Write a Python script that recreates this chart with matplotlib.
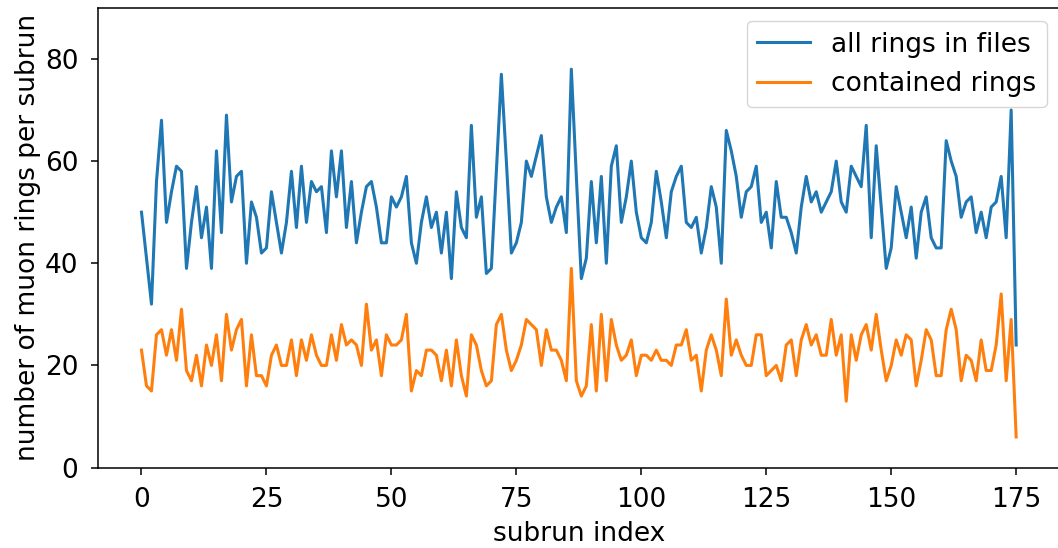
import matplotlib
matplotlib.use("Agg")
import matplotlib.pyplot as plt
import numpy as np

# rings per subrun
all_rings = [
    50, 41, 32, 56, 68, 48, 54, 59, 58, 39,
    48, 55, 45, 51, 39, 62, 46, 69, 52, 57,
    58, 40, 52, 49, 42, 43, 54, 48, 42, 48,
    58, 47, 59, 48, 56, 54, 55, 46, 62, 53,
    62, 47, 56, 44, 50, 55, 56, 51, 44, 44,
    53, 51, 53, 57, 44, 40, 48, 53, 47, 50,
    42, 50, 37, 54, 47, 45, 67, 49, 53, 38,
    39, 58, 77, 60, 42, 44, 48, 60, 57, 61,
    65, 53, 48, 51, 53, 46, 78, 57, 37, 41,
    56, 44, 57, 40, 59, 63, 48, 53, 60, 50,
    45, 44, 48, 58, 52, 45, 54, 57, 59, 48,
    47, 49, 42, 47, 55, 51, 40, 66, 62, 57,
    49, 54, 55, 59, 48, 50, 43, 56, 49, 49,
    46, 42, 51, 57, 52, 54, 50, 52, 54, 60,
    52, 50, 59, 57, 55, 67, 45, 63, 51, 39,
    43, 55, 50, 45, 51, 41, 50, 53, 45, 43,
    43, 64, 60, 57, 49, 52, 53, 46, 50, 45,
    51, 52, 57, 45, 70, 24,
]
contained_rings = [
    23, 16, 15, 26, 27, 22, 27, 21, 31, 19,
    17, 22, 16, 24, 20, 26, 17, 30, 23, 27,
    29, 16, 26, 18, 18, 16, 22, 24, 20, 20,
    25, 18, 25, 21, 26, 22, 20, 20, 26, 21,
    28, 24, 25, 24, 20, 32, 23, 25, 18, 26,
    24, 24, 25, 30, 15, 19, 18, 23, 23, 22,
    17, 23, 16, 25, 18, 14, 26, 24, 19, 16,
    17, 28, 30, 23, 19, 21, 24, 29, 28, 27,
    20, 27, 23, 23, 21, 17, 39, 17, 14, 16,
    28, 15, 30, 17, 29, 24, 21, 22, 25, 18,
    22, 22, 21, 23, 21, 21, 20, 24, 24, 27,
    21, 22, 15, 23, 26, 23, 18, 33, 22, 25,
    22, 20, 20, 26, 26, 18, 19, 20, 17, 24,
    25, 18, 25, 28, 24, 26, 22, 22, 29, 22,
    26, 13, 26, 21, 26, 28, 23, 30, 23, 17,
    20, 25, 22, 26, 25, 16, 21, 27, 25, 18,
    18, 27, 31, 27, 17, 22, 21, 17, 25, 19,
    19, 24, 34, 17, 29, 6,
]
subrun = np.arange(len(all_rings))

plt.rcParams["font.size"] = 19
plt.rcParams["axes.linewidth"] = 1.1
for ax_name in ("xtick", "ytick"):
    plt.rcParams[f"{ax_name}.major.size"] = 4.9
    plt.rcParams[f"{ax_name}.major.width"] = 1.1
    plt.rcParams[f"{ax_name}.major.pad"] = 9

fig = plt.figure(figsize=(10.58, 5.48), dpi=100)
# the right edge of the axes sits just past the image border, as in the original
ax = fig.add_axes([0.0924, 0.1467, 0.9094, 0.839])

ax.plot(subrun, all_rings, lw=2.2, label="all rings in files")
ax.plot(subrun, contained_rings, lw=2.2, label="contained rings")

ax.set_ylim(0, 90)
ax.set_xticks([0, 25, 50, 75, 100, 125, 150, 175])
ax.set_yticks([0, 20, 40, 60, 80])
ax.set_xlabel("subrun index", labelpad=6)
ax.set_ylabel("number of muon rings per subrun", labelpad=3)
ax.legend(loc="upper right")

fig.savefig("out.png", dpi=100)
